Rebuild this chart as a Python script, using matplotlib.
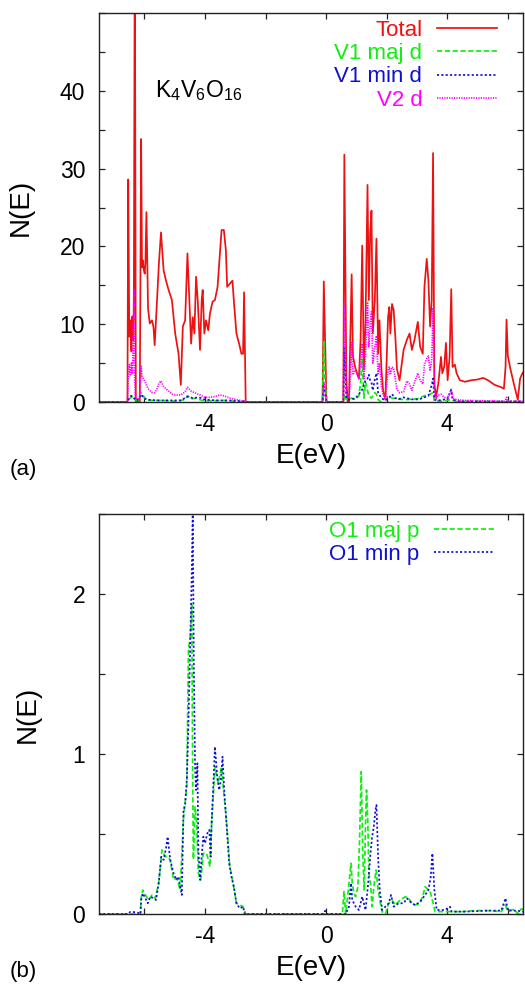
import matplotlib
matplotlib.use('Agg')
import matplotlib.pyplot as plt
from matplotlib.ticker import MultipleLocator, FuncFormatter

plt.rcParams['font.family'] = ['Liberation Sans', 'DejaVu Sans']
plt.rcParams['mathtext.fontset'] = 'custom'
plt.rcParams['mathtext.rm'] = 'Liberation Sans'
plt.rcParams['mathtext.it'] = 'Liberation Sans:italic'
plt.rcParams['mathtext.bf'] = 'Liberation Sans:bold'

# ---------------- panel (a) data ----------------
total_E = [-7.5, -6.56, -6.535, -6.50, -6.46, -6.43, -6.40, -6.37, -6.35, -6.317,
           -6.284, -6.24, -6.153, -6.109, -6.08, -6.055, -6.022, -5.99, -5.967, -5.934,
           -5.90, -5.88, -5.825, -5.75, -5.70, -5.661, -5.60, -5.519, -5.453, -5.42,
           -5.366, -5.28, -5.202, -5.093, -5.04, -4.984, -4.874, -4.798, -4.732, -4.656,
           -4.579, -4.525, -4.459, -4.404, -4.350, -4.295, -4.240, -4.164, -4.109, -4.076,
           -4.022, -3.967, -3.891, -3.836, -3.749, -3.672, -3.585, -3.508, -3.453, -3.377,
           -3.311, -3.268, -3.180, -3.093, -3.049, -2.962, -2.874, -2.798, -2.743, -2.710,
           -2.656, -0.12, -0.077, 0.011, 0.568, 0.601, 0.667, 0.710, 0.754, 0.798,
           0.842, 0.885, 0.973, 1.082, 1.137, 1.191, 1.246, 1.301, 1.366, 1.410,
           1.453, 1.497, 1.541, 1.607, 1.661, 1.716, 1.760, 1.825, 1.880, 1.956,
           2.044, 2.087, 2.120, 2.175, 2.230, 2.284, 2.339, 2.426, 2.557, 2.667,
           2.754, 2.831, 2.918, 3.027, 3.104, 3.191, 3.246, 3.322, 3.377, 3.432,
           3.486, 3.530, 3.574, 3.628, 3.705, 3.792, 3.836, 3.902, 3.956, 4.011,
           4.077, 4.131, 4.175, 4.251, 4.306, 4.415, 4.579, 4.798, 5.016, 5.180,
           5.344, 5.563, 5.781, 5.869, 5.924, 5.956, 6.000, 6.087, 6.219, 6.328,
           6.404, 6.470, 6.5]
total_N = [0, 0, 28.6, 8.4, 10.5, 6.5, 11.0, 8.0, 12.0, 62.0,
           0.0, 0.0, 0.0, 33.8, 17.3, 18.2, 17.0, 16.5, 18.0, 24.4,
           16.1, 12.0, 10.1, 10.5, 9.6, 7.3, 12.0, 18.0, 21.8, 20.0,
           16.9, 15.5, 14.4, 13.1, 11.0, 8.8, 6.2, 2.2, 9.7, 10.5,
           19.1, 13.9, 7.5, 10.9, 8.8, 16.1, 13.1, 6.7, 13.1, 14.4,
           8.8, 10.5, 9.2, 11.4, 12.9, 13.1, 14.8, 19.1, 22.1, 22.1,
           19.5, 14.8, 15.2, 15.6, 13.1, 8.8, 7.5, 6.2, 6.2, 14.1,
           0, 0, 15.5, 0, 0, 31.8, 3.0, 0, 0, 8.0,
           16.4, 5.9, 4.2, 3.0, 8.0, 20.1, 4.2, 10.5, 27.9, 13.1,
           21.6, 24.6, 8.8, 13.1, 21.0, 6.2, 10.5, 4.2, 1.5, 0.3,
           10.9, 12.2, 8.8, 12.6, 11.8, 8.4, 4.2, 2.8, 6.7, 8.0,
           8.8, 6.7, 8.0, 10.3, 7.1, 6.2, 14.8, 18.4, 15.6, 9.7,
           13.1, 32.0, 2.4, 0.6, 2.4, 5.8, 3.7, 4.6, 7.6, 2.8,
           5.8, 14.5, 4.5, 4.8, 3.7, 2.8, 2.6, 2.8, 2.9, 3.1,
           2.8, 2.2, 1.9, 1.7, 4.5, 10.6, 5.9, 4.2, 2.0, 0.3,
           3.0, 3.6, 3.8]

v1maj_E = [-7.5, -6.56, -6.50, -6.40, -6.33, -6.20, -6.11, -6.05, -5.95, -5.80,
           -5.40, -5.00, -4.66, -4.58, -4.45, -4.30, -4.10, -3.80, -3.40, -3.00,
           -2.66, -0.12, -0.077, -0.04, 0.011, 0.568, 0.601, 0.667, 0.842, 0.973,
           1.082, 1.137, 1.191, 1.246, 1.301, 1.366, 1.41, 1.497, 1.607, 1.661,
           1.716, 1.825, 1.956, 2.087, 2.30, 2.60, 3.00, 3.246, 3.432, 3.53,
           3.574, 3.80, 4.131, 4.30, 6.5]
v1maj_N = [0, 0, 0.4, 0.7, 0.3, 0.2, 1.2, 0.8, 0.3, 0.2,
           0.2, 0.1, 0.3, 0.8, 0.4, 0.5, 0.2, 0.15, 0.2, 0.1,
           0, 0, 7.9, 3.0, 0, 0, 1.0, 0.3, 0.5, 0.3,
           0.8, 2.5, 5.5, 0.5, 2.5, 1.5, 0.8, 0.5, 1.2, 1.0,
           0.3, 0.0, 0.5, 0.6, 0.4, 0.3, 0.4, 0.8, 1.0, 1.2,
           0.2, 0.1, 0.3, 0.05, 0.05]

v1min_E = [-7.5, -6.56, -6.50, -6.43, -6.35, -6.24, -6.11, -6.05, -5.97, -5.88,
           -5.60, -5.20, -4.80, -4.58, -4.40, -4.20, -4.00, -3.60, -3.20, -2.70,
           -2.66, -0.12, -0.077, 0.011, 0.568, 0.601, 0.667, 0.754, 0.885, 0.973,
           1.082, 1.191, 1.301, 1.366, 1.41, 1.453, 1.497, 1.541, 1.607, 1.661,
           1.716, 1.825, 1.956, 2.087, 2.175, 2.284, 2.426, 2.557, 2.754, 2.918,
           3.104, 3.246, 3.377, 3.486, 3.53, 3.574, 3.705, 4.011, 4.131, 4.175,
           4.40, 5.90, 6.5]
v1min_N = [0, 0, 0.6, 0.8, 0.5, 0.2, 1.0, 0.6, 0.4, 0.3,
           0.2, 0.2, 0.2, 0.7, 0.5, 0.6, 0.3, 0.2, 0.2, 0.1,
           0, 0, 2.0, 0, 0, 6.9, 0.5, 0.3, 0.4, 0.5,
           1.0, 1.6, 2.8, 3.0, 3.5, 2.8, 2.5, 1.5, 2.9, 3.7,
           1.2, 0.5, 0.2, 0.6, 1.0, 0.5, 0.4, 0.6, 0.4, 0.3,
           0.4, 0.6, 0.8, 2.2, 3.0, 0.3, 0.2, 0.4, 1.6, 0.3,
           0.1, 0.05, 0.1]

v2_E = [-7.5, -6.56, -6.535, -6.50, -6.46, -6.43, -6.40, -6.37, -6.35, -6.33,
        -6.30, -6.24, -6.15, -6.109, -6.08, -6.02, -5.967, -5.88, -5.75, -5.66,
        -5.585, -5.52, -5.453, -5.37, -5.20, -5.09, -4.98, -4.80, -4.66, -4.579,
        -4.46, -4.35, -4.16, -4.02, -3.84, -3.67, -3.51, -3.38, -3.18, -2.96,
        -2.71, -2.66, -0.12, -0.077, 0.011, 0.568, 0.601, 0.667, 0.754, 0.798,
        0.842, 0.885, 0.973, 1.082, 1.137, 1.191, 1.246, 1.301, 1.366, 1.41,
        1.453, 1.497, 1.541, 1.607, 1.661, 1.716, 1.76, 1.825, 1.88, 1.956,
        2.044, 2.087, 2.12, 2.175, 2.23, 2.284, 2.339, 2.426, 2.557, 2.667,
        2.754, 2.831, 2.918, 3.027, 3.104, 3.191, 3.246, 3.322, 3.377, 3.432,
        3.486, 3.53, 3.574, 3.628, 3.705, 3.792, 3.902, 4.011, 4.131, 4.175,
        4.306, 4.579, 5.344, 5.90, 5.956, 6.00, 6.5]
v2_N = [0, 0, 3.0, 4.8, 3.5, 5.0, 3.6, 8.0, 14.4, 4.0,
        0.5, 0.3, 0.5, 4.6, 3.3, 2.9, 2.5, 1.7, 1.2, 1.2,
        1.7, 2.4, 2.7, 2.0, 1.4, 1.0, 0.9, 0.9, 1.3, 1.9,
        1.4, 1.2, 0.9, 0.6, 0.6, 0.7, 0.9, 0.8, 0.5, 0.3,
        0.1, 0, 0, 2.5, 0, 0, 12.7, 1.0, 0.5, 3.0,
        7.8, 3.5, 4.2, 3.0, 5.0, 7.5, 3.0, 6.0, 12.7, 7.0,
        10.0, 11.6, 5.0, 7.0, 8.5, 3.5, 5.0, 2.0, 1.0, 0.3,
        4.0, 4.5, 3.5, 4.5, 4.3, 3.0, 1.6, 1.2, 1.3, 2.7,
        2.3, 1.5, 2.5, 3.7, 2.8, 2.3, 4.8, 5.6, 5.9, 4.0,
        5.5, 12.1, 1.2, 0.4, 0.9, 1.0, 0.6, 0.5, 1.6, 0.5,
        0.3, 0.2, 0.15, 0.1, 0.6, 0.1, 0.1]

# ---------------- panel (b) data ----------------
o1maj_E = [-7.5, -6.131, -6.109, -6.055, -5.967, -5.858, -5.749, -5.639, -5.530, -5.421,
           -5.311, -5.235, -5.148, -5.038, -4.929, -4.820, -4.710, -4.601, -4.546, -4.492,
           -4.459, -4.437, -4.404, -4.383, -4.328, -4.273, -4.219, -4.142, -4.055, -3.945,
           -3.836, -3.781, -3.672, -3.563, -3.453, -3.399, -3.344, -3.268, -3.180, -3.071,
           -2.962, -2.743, -2.656, 0.535, 0.590, 0.645, 0.732, 0.820, 0.863, 0.918,
           0.973, 1.049, 1.104, 1.158, 1.213, 1.257, 1.301, 1.333, 1.377, 1.410,
           1.464, 1.519, 1.574, 1.650, 1.716, 1.792, 1.847, 1.956, 2.066, 2.175,
           2.284, 2.448, 2.612, 2.721, 2.831, 2.940, 3.104, 3.213, 3.268, 3.377,
           3.432, 3.508, 3.596, 3.814, 4.470, 4.907, 5.344, 5.781, 5.913, 6.000,
           6.219, 6.328, 6.437, 6.5]
o1maj_N = [0, 0, 0.10, 0.15, 0.119, 0.088, 0.119, 0.098, 0.192, 0.40,
           0.358, 0.358, 0.338, 0.213, 0.223, 0.15, 0.60, 0.80, 1.65, 1.73,
           1.82, 1.93, 0.775, 0.342, 0.67, 0.567, 0.254, 0.213, 0.379, 0.379,
           0.296, 0.567, 0.921, 0.817, 0.921, 0.796, 0.692, 0.525, 0.296, 0.192,
           0.067, 0.046, 0, 0, 0.140, 0, 0.15, 0.317, 0.192, 0.129,
           0.108, 0.171, 0.463, 0.890, 0.358, 0.15, 0.567, 0.775, 0.567, 0.254,
           0.192, 0.046, 0.171, 0.275, 0.15, 0.067, 0.015, 0, 0.067, 0.0875,
           0.056, 0.0875, 0.108, 0.098, 0.067, 0.056, 0.067, 0.129, 0.171, 0.15,
           0.140, 0.0875, 0.015, 0.015, 0.015, 0.021, 0.021, 0.015, 0.056, 0.021,
           0.029, 0, 0.031, 0.03]

o1min_E = [-7.5, -6.55, -6.459, -6.24, -6.131, -6.109, -6.055, -5.967, -5.891, -5.803,
           -5.694, -5.617, -5.530, -5.443, -5.366, -5.279, -5.235, -5.148, -5.038, -4.951,
           -4.874, -4.820, -4.765, -4.710, -4.656, -4.601, -4.546, -4.492, -4.437, -4.404,
           -4.372, -4.328, -4.295, -4.251, -4.219, -4.164, -4.109, -4.055, -4.0, -3.923,
           -3.858, -3.814, -3.781, -3.727, -3.672, -3.596, -3.530, -3.475, -3.421, -3.366,
           -3.290, -3.202, -3.126, -3.049, -2.962, -2.852, -2.743, -2.689, -0.12, -0.033,
           0.011, 0.645, 0.754, 0.820, 0.863, 0.973, 1.082, 1.191, 1.301, 1.388,
           1.464, 1.519, 1.574, 1.628, 1.661, 1.716, 1.770, 1.847, 1.956, 2.066,
           2.142, 2.230, 2.393, 2.557, 2.667, 2.831, 2.940, 3.104, 3.268, 3.377,
           3.454, 3.508, 3.574, 3.650, 3.923, 4.087, 4.142, 4.579, 5.344, 5.781,
           5.924, 6.000, 6.328, 6.437, 6.5]
o1min_N = [0, 0, 0.014, 0.01, 0, 0.0875, 0.129, 0.098, 0.067, 0.108,
           0.098, 0.0875, 0.192, 0.358, 0.338, 0.421, 0.483, 0.338, 0.254, 0.213,
           0.233, 0.171, 0.119, 0.65, 0.681, 0.838, 1.192, 1.65, 2.13, 2.55,
           1.608, 0.921, 0.775, 0.942, 0.4, 0.213, 0.358, 0.483, 0.442, 0.504,
           0.525, 0.358, 0.567, 0.796, 1.046, 0.858, 0.775, 0.838, 0.983, 0.775,
           0.567, 0.317, 0.233, 0.171, 0.067, 0.035, 0.046, 0, 0, 0.02,
           0, 0, 0.046, 0.192, 0.0875, 0.046, 0.025, 0.108, 0.025, 0.192,
           0.379, 0.483, 0.546, 0.65, 0.681, 0.358, 0.15, 0.025, 0.046, 0.067,
           0.119, 0.046, 0.067, 0.067, 0.098, 0.067, 0.056, 0.077, 0.119, 0.15,
           0.233, 0.379, 0.15, 0.025, 0.025, 0.046, 0.015, 0.015, 0.021, 0.021,
           0.098, 0.021, 0.021, 0.015, 0.015]

labels_a = ['Total', 'V1 maj d', 'V1 min d', 'V2 d']
labels_b = ['O1 maj p', 'O1 min p']
x_range = (-7.5, 6.5)

RED = '#ee1111'
GREEN = '#11ee11'
BLUE = '#1010d0'
MAGENTA = '#ff00ff'
LW = 1.25

fig = plt.figure(figsize=(5.25, 9.86), dpi=100)
W, H = 525.0, 986.0
ax1 = fig.add_axes([99 / W, 1 - 402 / H, 424 / W, 389 / H])
ax2 = fig.add_axes([99 / W, 1 - 914 / H, 424 / W, 400 / H])

ax1.plot(total_E, total_N, color=RED, lw=LW, label=labels_a[0])
ax1.plot(v1maj_E, v1maj_N, color=GREEN, lw=LW, dashes=(3.0, 1.5), label=labels_a[1])
ax1.plot(v1min_E, v1min_N, color=BLUE, lw=LW, dashes=(1.2, 1.3), label=labels_a[2])
ax1.plot(v2_E, v2_N, color=MAGENTA, lw=LW, dashes=(0.7, 0.7), label=labels_a[3])

ax2.plot(o1maj_E, o1maj_N, color=GREEN, lw=LW, dashes=(3.0, 1.5), label=labels_b[0])
ax2.plot(o1min_E, o1min_N, color=BLUE, lw=LW, dashes=(1.2, 1.3), label=labels_b[1])


def xfmt(v, p):
    return f'{v:g}' if abs(v / 4 - round(v / 4)) < 1e-6 else ''


for ax in (ax1, ax2):
    ax.set_xlim(*x_range)
    ax.xaxis.set_major_locator(MultipleLocator(2))
    ax.xaxis.set_major_formatter(FuncFormatter(xfmt))
    ax.tick_params(direction='in', top=True, right=True, length=4.5, width=0.9,
                   labelsize=16.5, color='#222222')
    ax.tick_params(axis='y', pad=10)
    ax.tick_params(axis='x', pad=8)
    for s in ax.spines.values():
        s.set_linewidth(1.0)
        s.set_color('#222222')
    ax.set_xlabel('E(eV)', fontsize=20)
    ax.set_ylabel('N(E)', fontsize=20)

ax1.set_ylim(0, 50)
ax1.yaxis.set_major_locator(MultipleLocator(5))
ax1.yaxis.set_major_formatter(
    FuncFormatter(lambda v, p: f'{v:g}' if (round(v) % 10 == 0 and v < 45) else ''))
ax2.set_ylim(0, 2.5)
ax2.yaxis.set_major_locator(MultipleLocator(0.5))
ax2.yaxis.set_major_formatter(
    FuncFormatter(lambda v, p: f'{v:g}' if abs(v - round(v)) < 1e-6 else ''))

ax1.xaxis.set_label_coords(0.5, -0.105)
ax2.xaxis.set_label_coords(0.5, -0.103)
ax1.yaxis.set_label_coords(-0.153, 0.5)
ax2.yaxis.set_label_coords(-0.137, 0.5)

ax1.text(0.132, 0.80, r'K$_4$V$_6$O$_{16}$', transform=ax1.transAxes,
         fontsize=16.5, va='center', ha='left')

leg_kw = dict(loc='upper right', markerfirst=False, frameon=False, fontsize=16,
              labelcolor='linecolor', handlelength=2.7, handletextpad=0.66,
              labelspacing=0.1, borderpad=0.0, borderaxespad=0.0)
ax1.legend(bbox_to_anchor=(0.9387, 0.982), **leg_kw)
ax2.legend(bbox_to_anchor=(0.9316, 0.983), **leg_kw)

fig.text(10 / W, 1 - 470 / H, '(a)', fontsize=16, va='center', ha='left')
fig.text(10 / W, 1 - 972 / H, '(b)', fontsize=16, va='center', ha='left')

fig.savefig('out.png', dpi=100)
